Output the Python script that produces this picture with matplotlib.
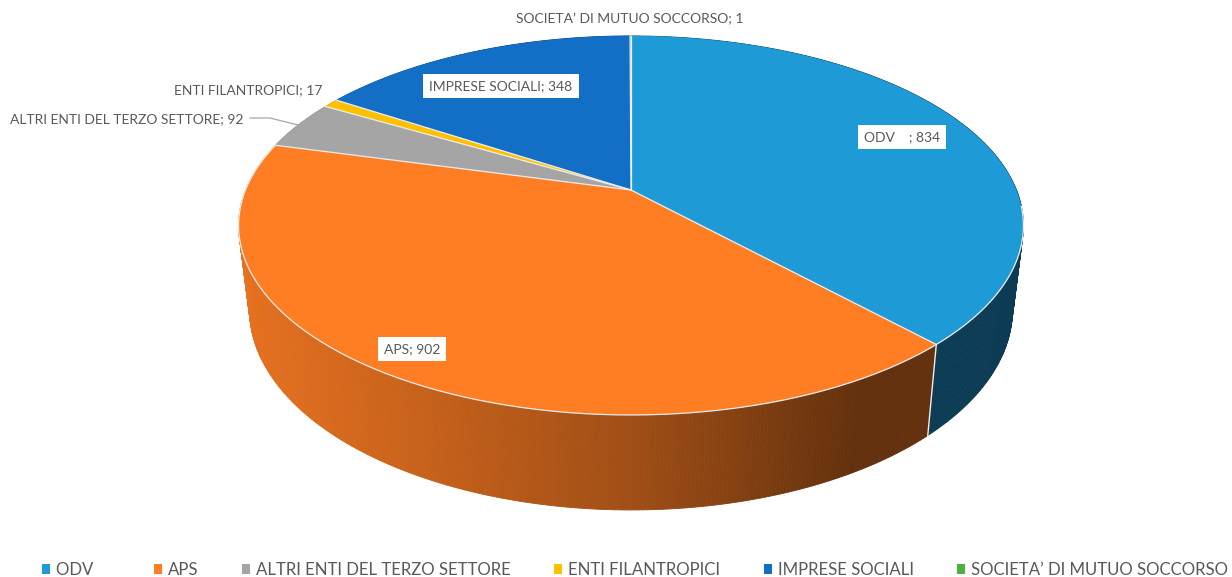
import matplotlib.pyplot as plt
import numpy as np
from matplotlib.patches import Patch, Polygon

# Dati
categories = ["ODV    ", "APS", "ALTRI ENTI DEL TERZO SETTORE", "ENTI FILANTROPICI",
              "IMPRESE SOCIALI", "SOCIETA\u2019 DI MUTUO SOCCORSO"]
values = [834, 902, 92, 17, 348, 1]
colors = ["#1E9BD7", "#FF7D23", "#A5A5A5", "#FFC000", "#126FC5", "#4DB03F"]

plt.rcParams['font.family'] = ['Lato', 'DejaVu Sans']
text_color = "#595959"
edge_color = "#EDEDED"

# prospettiva del disco (in pixel)
CX, CY = 631, 190
SX, SY, K = 385.5, 182.9, 0.187


def top_rim(angle):
    rad = np.radians(angle)
    u, v = np.sin(rad), np.cos(rad)
    w = 1 + K * v
    return CX + SX * u / w, CY - SY * v / w


def low_rim(angle):
    x, y = top_rim(angle)
    return CX + 0.972 * (x - CX), y + 95 - 0.0571 * (415 - y)


def shade(color, x):
    # sfumatura del bordo: chiaro a sinistra, scuro a destra
    f = np.interp(x, [240, 420, 640, 860], [0.90, 0.78, 0.62, 0.39])
    return tuple(c * f for c in plt.matplotlib.colors.to_rgb(color))


fig = plt.figure(figsize=(12.32, 5.77), dpi=100)
ax = fig.add_axes([0, 0, 1, 1])
ax.set_xlim(0, 1232)
ax.set_ylim(577, 0)
ax.axis('off')

edges = np.concatenate([[0], np.cumsum(values)]) / sum(values) * 360

# bordo laterale
for i, color in enumerate(colors):
    steps = np.linspace(edges[i], edges[i + 1], max(int(edges[i + 1] - edges[i]) * 2, 2))
    for a0, a1 in zip(steps[:-1], steps[1:]):
        x0, y0 = top_rim(a0)
        x1, y1 = top_rim(a1)
        x2, y2 = low_rim(a1)
        x3, y3 = low_rim(a0)
        c = shade(color, (x0 + x1) / 2)
        ax.add_patch(Polygon([(x0, y0), (x1, y1), (x2, y2), (x3, y3)], closed=True,
                             fc=c, ec=c, lw=0.6, zorder=1))

# linea chiara fra ODV e APS sul bordo
xa, ya = top_rim(edges[1])
xb, yb = low_rim(edges[1])
ax.plot([xa, xb], [ya, yb], color=edge_color, lw=1.0, zorder=2)

# faccia superiore
for i, color in enumerate(colors):
    angles = np.linspace(edges[i], edges[i + 1], max(int(edges[i + 1] - edges[i]) * 2, 2))
    xs, ys = top_rim(angles)
    pts = [(CX, CY)] + list(zip(xs, ys))
    ax.add_patch(Polygon(pts, closed=True, fc=color, ec='none', zorder=3))

# linee fra le fette e bordo anteriore
for a in edges[:-1]:
    x, y = top_rim(a)
    ax.plot([CX, x], [CY, y], color=edge_color, lw=0.9, zorder=4)
front = np.linspace(95, edges[2], 200)
ax.plot(*top_rim(front), color=edge_color, lw=0.9, zorder=4)

# etichette
box = dict(fc="white", ec="none", pad=4.5)
label_size = 10.0
ax.text(902, 137, f"{categories[0]}; {values[0]}", ha='center', va='center', color=text_color,
        fontsize=label_size, bbox=box, zorder=5)
ax.text(412, 349, f"{categories[1]}; {values[1]}", ha='center', va='center', color=text_color,
        fontsize=label_size, bbox=box, zorder=5)
ax.text(501, 86, f"{categories[4]}; {values[4]}", ha='center', va='center', color=text_color,
        fontsize=label_size, bbox=box, zorder=5)
ax.text(243, 119, f"{categories[2]}; {values[2]}", ha='right', va='center', color=text_color,
        fontsize=label_size, zorder=5)
ax.text(322, 90, f"{categories[3]}; {values[3]}", ha='right', va='center', color=text_color,
        fontsize=label_size, zorder=5)
ax.text(630, 19, f"{categories[5]}; {values[5]}", ha='center', va='center', color=text_color,
        fontsize=label_size, zorder=5)
ax.plot([250, 270, 298], [118, 118, 125], color="#A6A6A6", lw=0.9, zorder=4)

# legenda
handles = [Patch(fc=c, ec='none') for c in colors]
ax.legend(handles, categories, loc='lower center', bbox_to_anchor=(0.5155, -0.002), ncols=6,
          frameon=False, fontsize=12.1, labelcolor=text_color, handlelength=0.48,
          handleheight=0.48, handletextpad=0.36, columnspacing=2.58, borderpad=0,
          borderaxespad=0)

fig.savefig("out.png", dpi=100)
plt.close()
